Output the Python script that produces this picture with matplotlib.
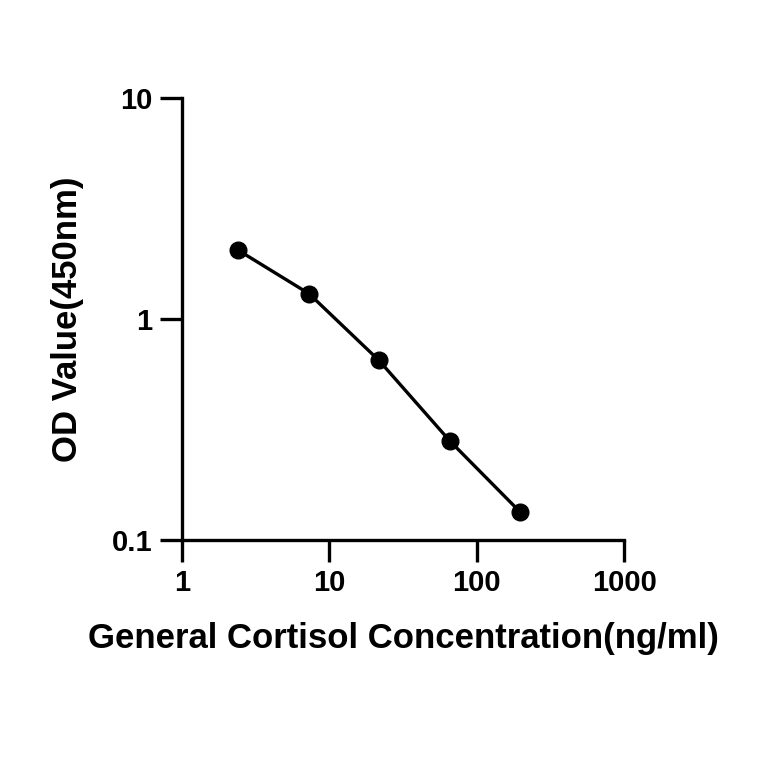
import matplotlib
matplotlib.use("Agg")
from matplotlib import pyplot as plt
from matplotlib.ticker import FixedLocator, NullLocator, FixedFormatter

concentration = [2.4, 7.3, 21.7, 66, 197]
od_value = [2.05, 1.30, 0.65, 0.28, 0.134]

x_ticks = [1, 10, 100, 1000]
x_labels = ["1", "10", "100", "1000"]
y_ticks = [0.1, 1, 10]
y_labels = ["0.1", "1", "10"]

plt.rcParams["font.family"] = ["Liberation Sans", "DejaVu Sans"]
plt.rcParams["font.weight"] = "bold"

fig = plt.figure(figsize=(7.64, 7.64), dpi=100)
ax = fig.add_axes([0.238, 0.293, 0.579, 0.579])

ax.plot(concentration, od_value, color="black", linewidth=2.4,
        marker="o", markersize=12)

ax.set_xscale("log")
ax.set_yscale("log")
ax.set_xlim(1, 1000)
ax.set_ylim(0.1, 10)
ax.xaxis.set_major_locator(FixedLocator(x_ticks))
ax.xaxis.set_major_formatter(FixedFormatter(x_labels))
ax.xaxis.set_minor_locator(NullLocator())
ax.yaxis.set_major_locator(FixedLocator(y_ticks))
ax.yaxis.set_major_formatter(FixedFormatter(y_labels))
ax.yaxis.set_minor_locator(NullLocator())

for side in ["top", "right"]:
    ax.spines[side].set_visible(False)
for side in ["left", "bottom"]:
    ax.spines[side].set_linewidth(2.4)
ax.tick_params(width=2.4, length=16, labelsize=21, pad=5)

ax.set_xlabel("General Cortisol Concentration(ng/ml)", fontsize=25,
              fontweight="bold", labelpad=18)
ax.set_ylabel("OD Value(450nm)", fontsize=25, fontweight="bold", labelpad=20)

fig.savefig("out.png", dpi=100)
